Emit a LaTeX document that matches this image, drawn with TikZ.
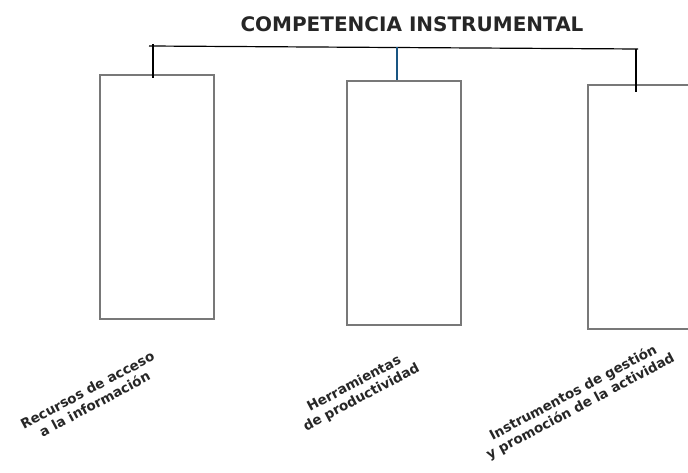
\documentclass[tikz,border=0pt]{standalone}
\usepackage{fontspec}
\setmainfont{DejaVu Sans}
\definecolor{grisCaja}{RGB}{120,120,120}
\definecolor{azulEnlace}{RGB}{25,85,130}
\begin{document}
\begin{tikzpicture}[x=1pt,y=-1pt,
    caja/.style={draw=grisCaja,line width=1.7pt,minimum width=114pt,minimum height=244pt,inner sep=0pt,anchor=north west},
    enlace/.style={line width=1.2pt},
    etiqueta/.style={font=\bfseries\fontsize{13.5}{15.5}\selectfont,text=black!85,align=center,rotate=28,inner sep=1pt}]
\useasboundingbox (0,0) rectangle (688,473);
\node[font=\bfseries\fontsize{20}{22}\selectfont,text=black!85] (titulo) at (412,24) {COMPETENCIA INSTRUMENTAL};
\foreach \n/\x/\y in {1/99/74, 2/346/80, 3/587/84}
{
    \node[caja] (caja\n) at (\x,\y) {};
}
% barra superior
\coordinate (nudo1) at (153,44);
\coordinate (nudo2) at (397,47);
\coordinate (nudo3) at (636,49);
\draw[enlace] ([xshift=-4pt,yshift=-2pt]nudo1) -- ([xshift=2pt]nudo3);
\draw[enlace] (nudo1) -- ([yshift=-4pt]nudo1 |- caja1.north);
\draw[azulEnlace,line width=1.1pt] (nudo2) -- (nudo2 |- caja2.north);
\draw[enlace] (nudo3) -- ([yshift=-8pt]nudo3 |- caja3.north);
% textos
\node[etiqueta] (texto1) at (91,397) {Recursos de acceso\\a la información};
\node[etiqueta] (texto2) at (358,391) {Herramientas\\de productividad};
\node[etiqueta] (texto3) at (577,400) {Instrumentos de gestión\\y promoción de la actividad};
\end{tikzpicture}
\end{document}
